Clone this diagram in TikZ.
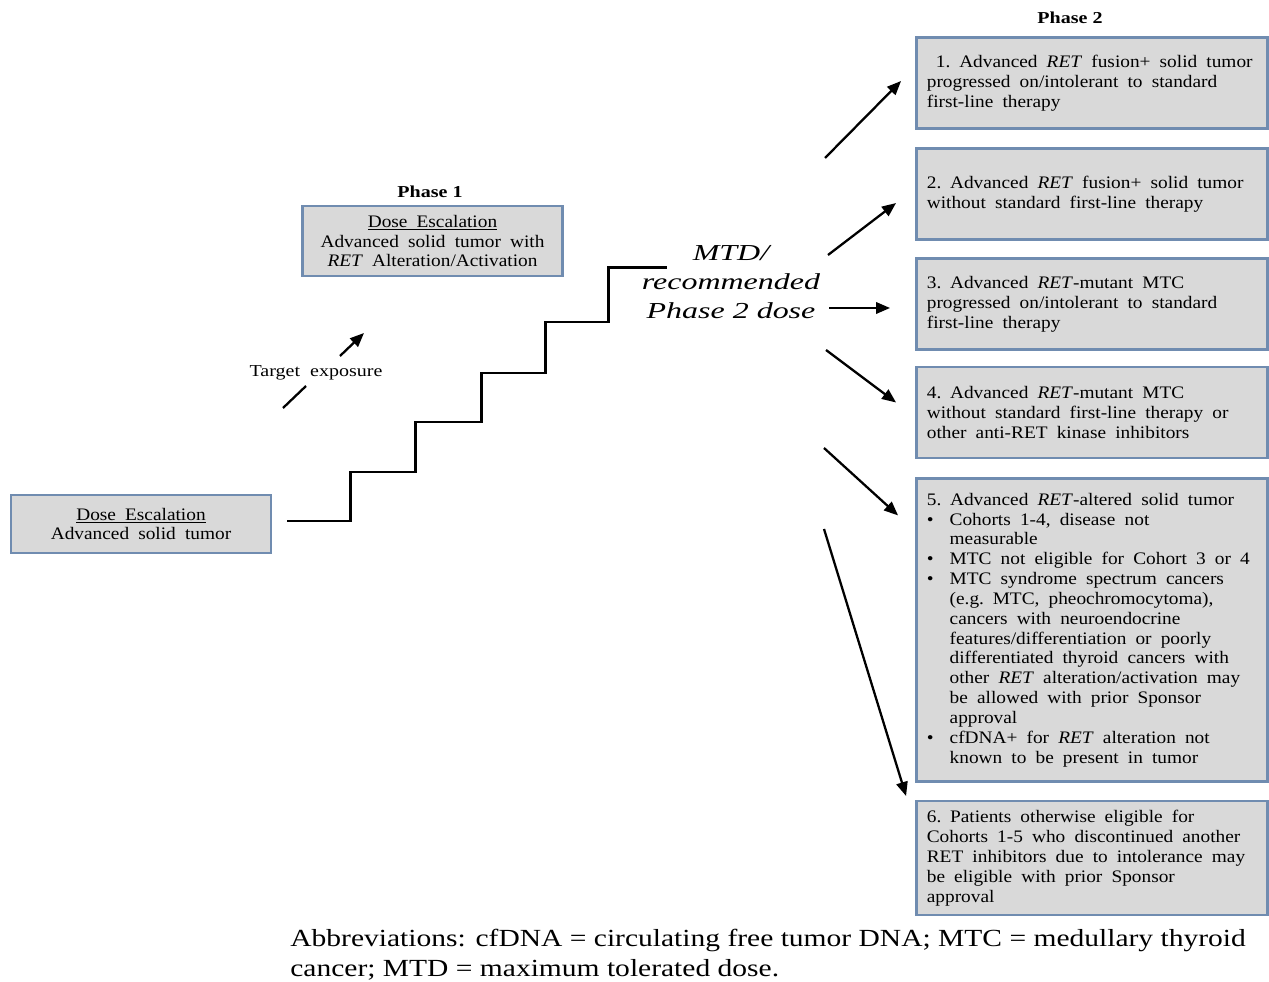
\documentclass[tikz,border=0pt]{standalone}
\usepackage{fontspec}
\setmainfont{Liberation Serif}[FakeStretch=1.2]
\newfontfamily\cohortfont{Liberation Serif}[FakeStretch=1.1]
\newfontfamily\mtdfont{Liberation Serif}[FakeStretch=1.4]
\usepackage{tikz}
\usetikzlibrary{arrows.meta,positioning,calc}
\definecolor{cohortgray}{RGB}{217,217,217}
\definecolor{cohortedge}{RGB}{112,140,176}

\newcommand{\blt}{\makebox[13pt][l]{\textbullet}}
\newcommand{\ind}{\hspace*{13pt}}
\newcommand{\widesp}{\spaceskip=5.2pt plus 0.5pt minus 0.5pt\relax}
\newcommand{\cohortsize}{\cohortfont\fontsize{10}{11.3}\selectfont\widesp}

\tikzset{
  cohort/.style={draw=cohortedge, line width=1.4pt, fill=cohortgray, align=left,
    text width=188pt, inner xsep=6pt, inner ysep=0pt, font=\cohortsize},
  escbox/.style={draw=cohortedge, line width=1.4pt, fill=cohortgray, align=center,
    inner sep=0pt, minimum width=148pt, font=\cohortsize},
  flow/.style={-{Triangle[length=8pt,width=6.5pt]}, line width=1.3pt},
  phaselbl/.style={font=\fontsize{9.5}{11}\bfseries\selectfont}
}

\begin{document}
\begin{tikzpicture}[x=0.02cm, y=-0.02cm]
  \useasboundingbox (0,0) rectangle (1269,982);

  % Phase 1
  \node[escbox, minimum height=33pt] (esc) at (141,524)
    {\underline{Dose Escalation}\\Advanced  solid  tumor};
  \node[escbox, minimum height=40pt] (ph1) at (432.5,241)
    {\underline{Dose Escalation}\\Advanced  solid  tumor  with\\\textit{RET} Alteration/Activation};
  \node[phaselbl] (ph1lbl) at (430,192) {Phase 1};

  % target exposure
  \node[font=\fontsize{9.5}{11}\selectfont] (tgt) at (316,373) {Target\ \ exposure};
  \coordinate (te1) at (283,408);
  \coordinate (te2) at (306,386);
  \coordinate (te3) at (340,356);
  \coordinate (te4) at (364,333);
  \draw[line width=1.3pt] (te1) -- (te2);
  \draw[flow] (te3) -- (te4);

  % staircase
  \draw[line width=1.7pt] ($(esc.east)+(15,-3)$) -- ++(63,0) -- ++(0,-49) -- ++(65,0)
    -- ++(0,-50) -- ++(66,0) -- ++(0,-49) -- ++(64,0) -- ++(0,-51) -- ++(63,0)
    -- ++(0,-54) -- ++(59,0);

  \node[font=\mtdfont\fontsize{13}{16.5}\itshape\selectfont, align=center] (mtd) at (731,282)
    {MTD/\\recommended\\Phase 2 dose};

  % Phase 2
  \node[phaselbl] (ph2lbl) at (1070,18) {Phase 2};
  \node[cohort, minimum height=52pt] (c1) at (1092,83)
    {\widesp ~1. Advanced \textit{RET} fusion+  solid  tumor\\progressed  on/intolerant  to  standard\\first-line  therapy};
  \node[cohort, minimum height=52pt] (c2) at (1092,194)
    {\widesp 2. Advanced \textit{RET} fusion+  solid  tumor\\without  standard  first-line  therapy};
  \node[cohort, minimum height=52pt] (c3) at (1092,304)
    {\widesp 3. Advanced \textit{RET}-mutant  MTC\\progressed  on/intolerant  to  standard\\first-line  therapy};
  \node[cohort, minimum height=51.6pt] (c4) at (1092,412.5)
    {\widesp 4. Advanced \textit{RET}-mutant  MTC\\without  standard  first-line  therapy  or\\other  anti-RET  kinase  inhibitors};
  \node[cohort, minimum height=172.3pt] (c5) at (1092,630)
    {\widesp 5. Advanced \textit{RET}-altered  solid  tumor\\
     \blt Cohorts  1-4, disease  not\\
     \ind measurable\\
     \blt MTC  not eligible  for  Cohort  3  or 4\\
     \blt MTC  syndrome  spectrum  cancers\\
     \ind (e.g.  MTC, pheochromocytoma),\\
     \ind cancers  with  neuroendocrine\\
     \ind features/differentiation  or  poorly\\
     \ind differentiated  thyroid  cancers  with\\
     \ind other \textit{RET} alteration/activation  may\\
     \ind be allowed  with  prior  Sponsor\\
     \ind approval\\
     \blt cfDNA+  for \textit{RET} alteration  not\\
     \ind known  to be present  in  tumor};
  \node[cohort, minimum height=64.6pt] (c6) at (1092,858)
    {\widesp 6. Patients  otherwise  eligible  for\\Cohorts  1-5 who  discontinued  another\\RET  inhibitors  due to intolerance  may\\be eligible  with  prior  Sponsor\\approval};

  % arrows to cohorts
  \coordinate (s1) at (825,158);
  \coordinate (s2) at (828,255);
  \coordinate (s3) at (829,308);
  \coordinate (s4) at (826,350);
  \coordinate (s5) at (824,448);
  \coordinate (s6) at (824,529);
  \draw[flow] (s1) -- ($(c1.west)+(-14,-2)$);
  \draw[flow] (s2) -- ($(c2.west)+(-19,9)$);
  \draw[flow] (s3) -- ($(c3.west)+(-25,4)$);
  \draw[flow] (s4) -- ($(c4.west)+(-19,-10)$);
  \draw[flow] (s5) -- ($(c5.north west)+(-17,38)$);
  \draw[flow] (s6) -- ($(c6.north west)+(-9,-4)$);

  % footnote
  \node[anchor=north west, align=left, inner sep=0pt, font=\fontsize{14}{16.8}\selectfont] (abbr) at (290,929)
    {Abbreviations: cfDNA = circulating free tumor DNA; MTC = medullary thyroid\\cancer; MTD = maximum tolerated dose.};
\end{tikzpicture}
\end{document}
